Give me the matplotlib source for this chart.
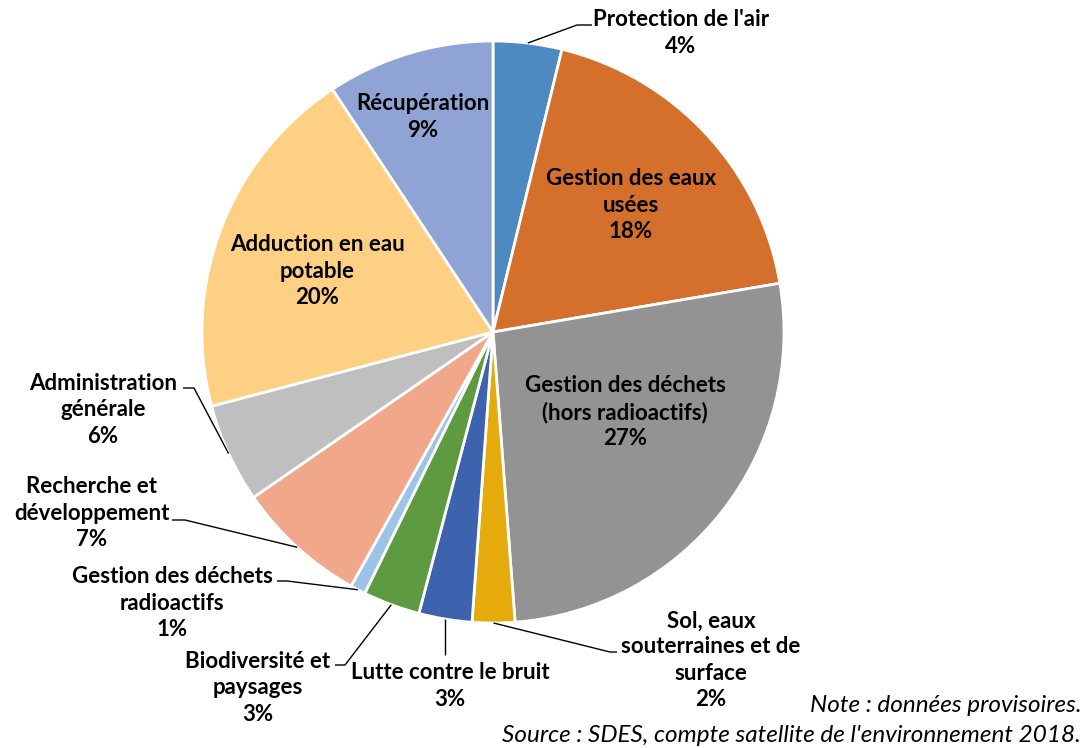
import numpy as np
import matplotlib as mpl
import matplotlib.pyplot as plt

mpl.rcParams.update({
    'font.family': ['Lato', 'DejaVu Sans'],
    'figure.dpi': 100,
    'savefig.dpi': 100,
    'figure.facecolor': 'white',
})

# slice shares (%), clockwise from 12 o'clock
CATEGORIES = [
    "Protection de l'air",
    'Gestion des eaux usées',
    'Gestion des déchets (hors radioactifs)',
    'Sol, eaux souterraines et de surface',
    'Lutte contre le bruit',
    'Biodiversité et paysages',
    'Gestion des déchets radioactifs',
    'Recherche et développement',
    'Administration générale',
    'Adduction en eau potable',
    'Récupération',
]
VALUES = [3.81, 18.51, 26.47, 2.36, 2.95, 3.16, 0.85, 7.27, 5.52, 19.80, 9.30]
PCT_LABELS = ['4%', '18%', '27%', '2%', '3%', '3%', '1%', '7%', '6%', '20%', '9%']
LABEL_TEXT = [
    "Protection de l'air",
    'Gestion des eaux\nusées',
    'Gestion des déchets\n(hors radioactifs)',
    'Sol, eaux\nsouterraines et de\nsurface',
    'Lutte contre le bruit',
    'Biodiversité et\npaysages',
    'Gestion des déchets\nradioactifs',
    'Recherche et\ndéveloppement',
    'Administration\ngénérale',
    'Adduction en eau\npotable',
    'Récupération',
]

COLORS = ['#4E8AC1', '#D4702C', '#939393', '#E5AA0C', '#3D63AE', '#5E9B40',
          '#9DC3E6', '#F1A78A', '#BFBFBF', '#FED083', '#8FA3D5']

W, H = 1089, 748
CX, CY, R = 493, 332, 291

# label centres in pixel coords (layout only)
LABEL_POS = [(681, 33), (631, 205), (625, 412), (711, 660), (450, 686),
             (258, 688), (172, 603), (92, 513), (103, 410), (317, 271),
             (423, 117)]
# leader lines: (elbow, end) in pixel coords
LEADERS = {
    0: ((577, 25), (592, 25)),
    3: ((610, 652), (617, 652)),
    4: ((None, 655), None),
    5: ((345, 665), (335, 665)),
    6: ((287, 581), (277, 581)),
    7: ((185, 520), (172, 520)),
    8: ((194, 388), (183, 388)),
}


def px(x, y):
    return (x - CX) / R, (CY - y) / R


fig = plt.figure(figsize=(W / 100, H / 100))
ax = fig.add_axes([(CX - R) / W, (H - CY - R) / H, 2 * R / W, 2 * R / H])
wedges, _ = ax.pie(VALUES, colors=COLORS, startangle=90, counterclock=False,
                   radius=1.0,
                   wedgeprops=dict(edgecolor='white', linewidth=2))
ax.set_xlim(-1, 1)
ax.set_ylim(-1, 1)
ax.set_axis_off()

for i, w in enumerate(wedges):
    x, y = px(*LABEL_POS[i])
    ax.text(x, y, LABEL_TEXT[i] + '\n' + PCT_LABELS[i], ha='center',
            va='center', fontsize=16, fontweight='bold', linespacing=1.3,
            color='black')
    if i in LEADERS:
        mid = np.deg2rad((w.theta1 + w.theta2) / 2)
        sx, sy = np.cos(mid), np.sin(mid)
        elbow, end = LEADERS[i]
        ex = sx if elbow[0] is None else px(elbow[0], 0)[0]
        ey = px(0, elbow[1])[1]
        xs, ys = [sx, ex], [sy, ey]
        if end is not None:
            xs.append(px(*end)[0])
            ys.append(px(*end)[1])
        ax.plot(xs, ys, color='black', linewidth=1.0, clip_on=False,
                solid_capstyle='butt')

fig.text(1081 / W, 1 - 705 / H, 'Note : données provisoires.', ha='right',
         va='center', fontsize=17.5, style='italic')
fig.text(1081 / W, 1 - 735 / H,
         "Source : SDES, compte satellite de l'environnement 2018.",
         ha='right', va='center', fontsize=17.5, style='italic')

fig.savefig('out.png', dpi=100)
